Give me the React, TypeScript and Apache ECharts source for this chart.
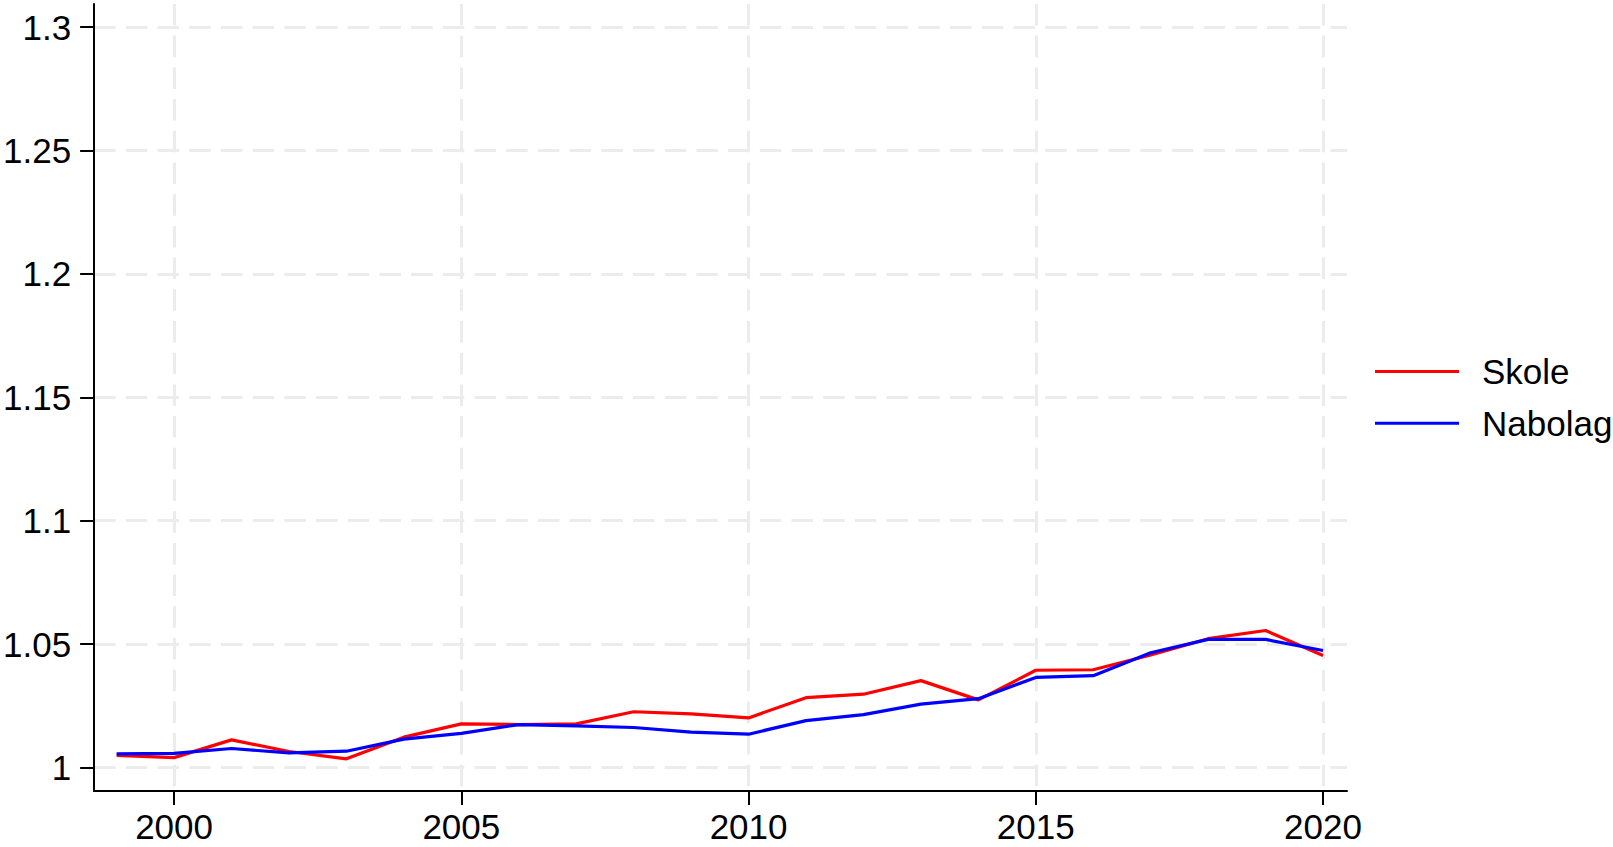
import React, { useEffect, useRef } from "react";
import * as echarts from "echarts";

const years = [1999, 2000, 2001, 2002, 2003, 2004, 2005, 2006, 2007, 2008, 2009, 2010, 2011, 2012, 2013, 2014, 2015, 2016, 2017, 2018, 2019, 2020];
const skole = [1.0049, 1.004, 1.0112, 1.0065, 1.0035, 1.0123, 1.0177, 1.0174, 1.0177, 1.0226, 1.0217, 1.0201, 1.0283, 1.0297, 1.0352, 1.0274, 1.0394, 1.0396, 1.0456, 1.0522, 1.0555, 1.0454];
const nabolag = [1.0055, 1.0057, 1.0077, 1.0059, 1.0066, 1.0115, 1.0138, 1.0174, 1.0169, 1.0162, 1.0143, 1.0135, 1.019, 1.0214, 1.0257, 1.0279, 1.0365, 1.0372, 1.0465, 1.0519, 1.0519, 1.0474];
const seriesNames = ["Skole", "Nabolag"];
const xTicks = [2000, 2005, 2010, 2015, 2020];
const yTicks = [1, 1.05, 1.1, 1.15, 1.2, 1.25, 1.3];

const FONT = "'Liberation Sans', Arial, sans-serif";

export default function App() {
  const ref = useRef<HTMLDivElement>(null);
  useEffect(() => {
    document.body.style.margin = "0";
    const chart = echarts.init(ref.current!, null, { renderer: "svg" });
    const gridLine = { show: true, lineStyle: { color: "#ececec", width: 3, type: [21.5, 10.2] as any } };
    const axisLine = { show: true, onZero: false, lineStyle: { color: "#000", width: 2 } };
    const axisTick = { show: true, inside: false, length: 14, lineStyle: { color: "#000", width: 2 } };
    chart.setOption({
      animation: false,
      backgroundColor: "#fff",
      grid: { left: 93.5, top: 4, right: 266, bottom: 56, containLabel: false },
      xAxis: {
        type: "value",
        min: 1998.608,
        max: 2020.417,
        axisLine,
        axisTick: { ...axisTick, customValues: xTicks },
        axisLabel: {
          customValues: xTicks,
          color: "#000",
          fontSize: 35,
          fontFamily: FONT,
          margin: 18,
          formatter: (v: number) => String(v),
        },
        splitLine: gridLine,
      },
      yAxis: {
        type: "value",
        min: 0.99048,
        max: 1.30936,
        axisLine,
        axisTick: { ...axisTick, customValues: yTicks },
        axisLabel: {
          customValues: yTicks,
          color: "#000",
          fontSize: 35,
          fontFamily: FONT,
          margin: 23,
          formatter: (v: number) => String(Math.round(v * 100) / 100),
        },
        splitLine: gridLine,
      },
      legend: {
        orient: "vertical",
        left: 1375,
        top: 354,
        padding: 0,
        icon: "rect",
        itemWidth: 84,
        itemHeight: 3,
        itemGap: 16.8,
        textStyle: { color: "#000", fontSize: 35, fontFamily: FONT, padding: [0, 0, 0, 18] },
        data: seriesNames,
      },
      series: [
        {
          name: seriesNames[0],
          type: "line",
          symbol: "none",
          data: years.map((y, i) => [y, skole[i]]),
          lineStyle: { color: "#ff0000", width: 3.2 },
          itemStyle: { color: "#ff0000" },
        },
        {
          name: seriesNames[1],
          type: "line",
          symbol: "none",
          data: years.map((y, i) => [y, nabolag[i]]),
          lineStyle: { color: "#0000ff", width: 3.2 },
          itemStyle: { color: "#0000ff" },
        },
      ],
    });
    return () => chart.dispose();
  }, []);
  return <div ref={ref} style={{ position: "fixed", left: 0, top: 0, width: 1613, height: 847 }} />;
}
